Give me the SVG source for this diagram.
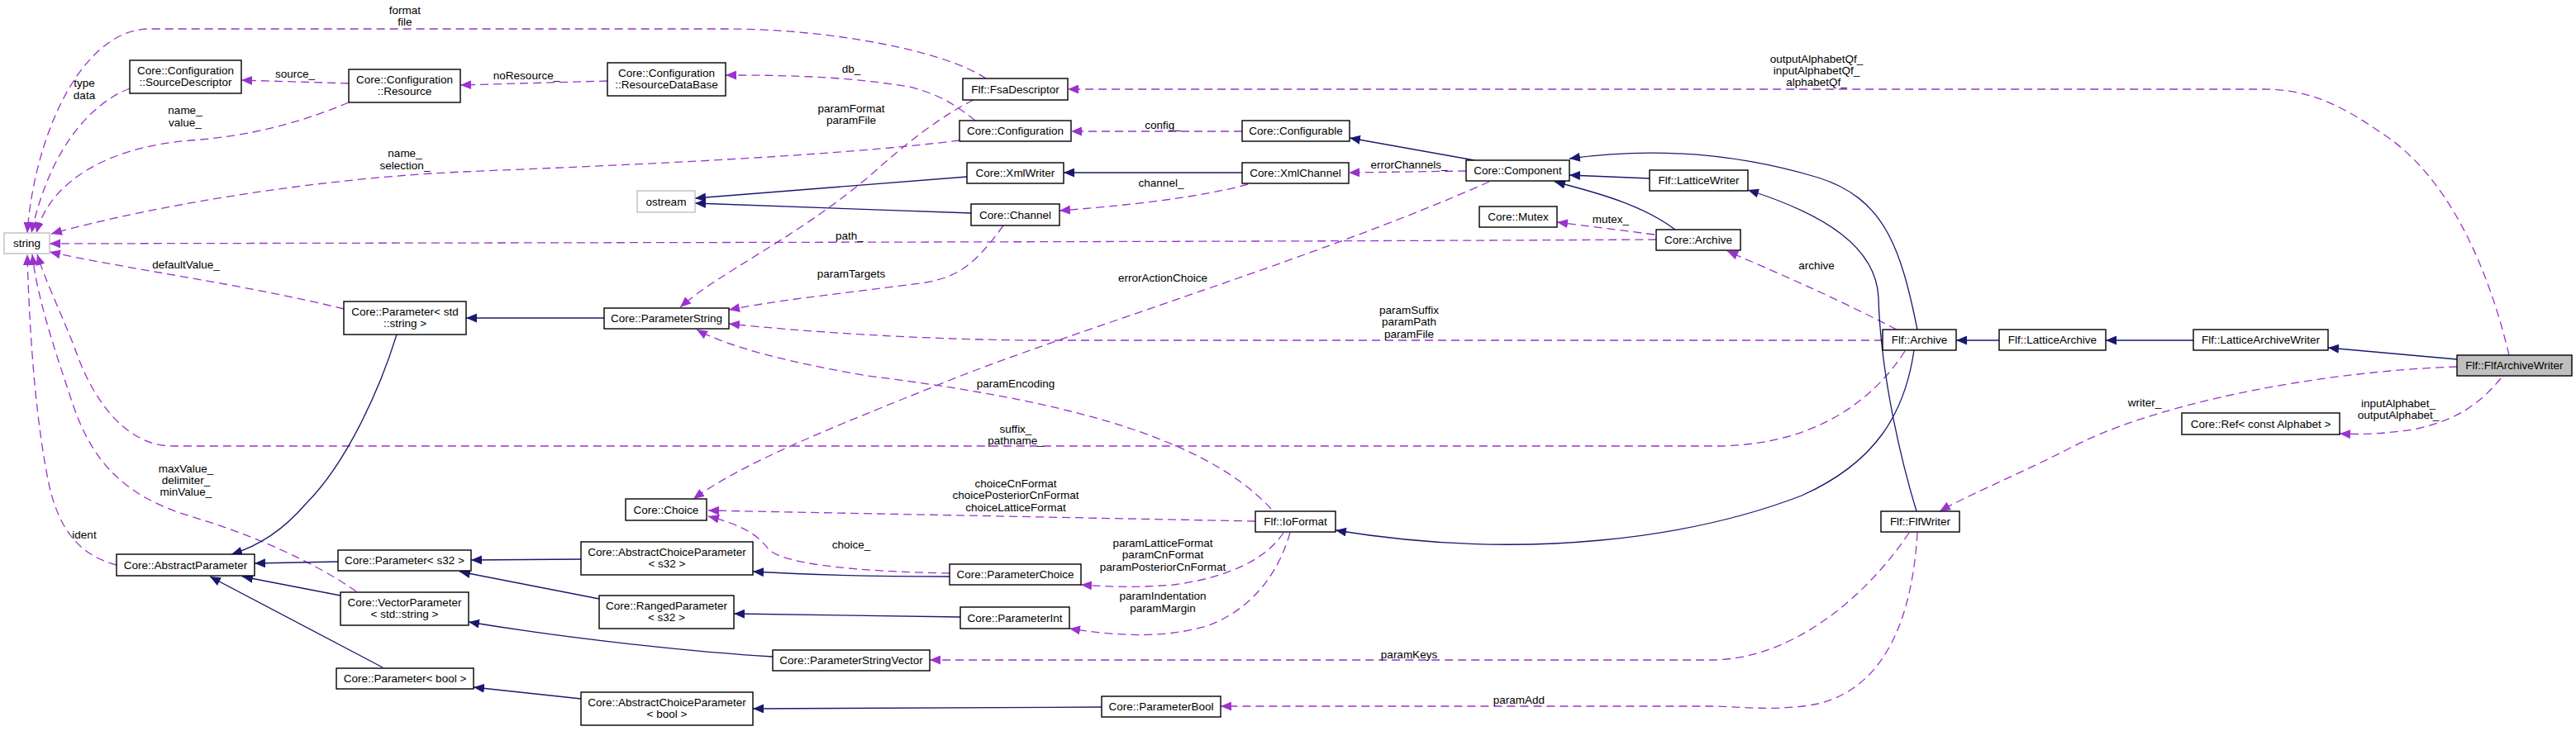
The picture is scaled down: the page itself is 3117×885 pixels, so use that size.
<svg xmlns="http://www.w3.org/2000/svg" width="3117" height="885" viewBox="0 0 3117 885">
<style>
.n rect{fill:#fff;stroke:#000;stroke-width:1.4}
.g rect{stroke:#bfbfbf}
.f rect{fill:#bfbfbf}
text{font-family:"Liberation Sans",Arial,sans-serif;font-size:13.5px;fill:#000;text-anchor:middle}
.s{fill:none;stroke:#191970;stroke-width:1.3;marker-end:url(#ab)}
.d{fill:none;stroke:#9a32cd;stroke-width:1.3;stroke-dasharray:10,6;marker-end:url(#ap)}
</style>
<defs>
<marker id="ab" markerUnits="userSpaceOnUse" markerWidth="14" markerHeight="11" refX="13" refY="5.5" orient="auto" viewBox="0 0 14 11"><path d="M0,0 L13,5.5 L0,11 z" fill="#191970"/></marker>
<marker id="ap" markerUnits="userSpaceOnUse" markerWidth="14" markerHeight="11" refX="13" refY="5.5" orient="auto" viewBox="0 0 14 11"><path d="M0,0 L13,5.5 L0,11 z" fill="#9a32cd"/></marker>
</defs>
<rect width="3117" height="885" fill="#fff"/>
<g id="edges">
<path class="d" d="M1193,95 C1140,60 1000,35 880,35 L178,35 C100,38 42,160 33,282"/>
<path class="d" d="M157,107 C110,125 60,180 38,282"/>
<path class="d" d="M422,124 C360,150 300,165 230,170 C130,178 60,220 44,282"/>
<path class="d" d="M1161,170 C1000,190 750,200 560,208 C400,215 200,245 62,283"/>
<path class="d" d="M2004,290 C1500,293 500,294 60,295"/>
<path class="d" d="M416,374 C300,345 150,325 60,305"/>
<path class="d" d="M141,684 C95,672 72,640 60,590 C45,520 36,420 33,308"/>
<path class="d" d="M431,716 C380,680 300,645 230,625 C150,600 110,560 85,480 C65,420 45,360 39,308"/>
<path class="d" d="M2305,425 C2270,480 2200,540 2075,540 L209,540 C150,540 110,480 90,420 C70,370 55,340 45,308"/>
<path class="d" d="M1214,273 C1180,320 1160,335 1120,342 C1000,358 950,362 882,375"/>
<path class="d" d="M1178,121 C1140,140 1100,170 1050,215 C960,290 870,330 823,372"/>
<path class="d" d="M2278,412 L1240,412 C1100,410 980,402 882,392"/>
<path class="d" d="M1538,616 C1450,520 1250,480 1050,455 C960,440 880,420 843,399"/>
<path class="d" d="M1802,220 C1600,310 1300,400 1150,460 C1000,520 900,560 839,604"/>
<path class="s" d="M731,385 L564,385"/>
<path class="s" d="M1170,214 L841,240"/>
<path class="s" d="M1175,258 L841,246"/>
<path class="s" d="M1503,209 L1287,209"/>
<path class="d" d="M1510,223 C1450,240 1350,250 1282,255"/>
<path class="d" d="M1503,159 L1296,159"/>
<path class="d" d="M1180,146 C1160,130 1140,115 1100,105 C1020,92 950,91 878,91"/>
<path class="s" d="M1784,194 L1633,167"/>
<path class="d" d="M1774,207 L1632,209"/>
<path class="d" d="M2002,284 L1884,269"/>
<path class="s" d="M2027,278 C1990,250 1940,235 1881,220"/>
<path class="s" d="M1996,216 L1899,212"/>
<path class="d" d="M2295,399 C2220,360 2150,330 2090,304"/>
<path class="s" d="M2320,399 C2300,300 2280,240 2200,215 C2100,185 2000,178 1899,192"/>
<path class="s" d="M2316,424 C2305,500 2270,560 2180,600 C2050,650 1850,680 1616,642"/>
<path class="s" d="M2319,619 C2295,540 2275,440 2273,360 C2270,300 2210,260 2115,230"/>
<path class="s" d="M2419,412 L2367,412"/>
<path class="s" d="M2654,412 L2548,412"/>
<path class="s" d="M2973,435 L2817,421"/>
<path class="d" d="M3036,430 C3010,320 2960,210 2880,160 C2830,125 2790,108 2740,108 L1292,108"/>
<path class="d" d="M2973,444 C2800,450 2600,490 2500,545 C2430,580 2380,600 2347,619"/>
<path class="d" d="M3026,458 C3000,490 2970,510 2920,520 C2880,526 2850,526 2831,525"/>
<path class="d" d="M2310,645 C2260,720 2170,799 2070,799 L1125,799"/>
<path class="d" d="M2320,645 C2315,730 2290,830 2200,852 C2150,862 2100,855 2070,855 L1477,855"/>
<path class="d" d="M1519,631 L857,618"/>
<path class="d" d="M1149,694 C1050,692 950,685 930,665 C915,645 895,635 857,625"/>
<path class="s" d="M1149,698 C1050,698 980,696 911,692"/>
<path class="d" d="M1553,645 C1530,680 1480,700 1420,708 C1370,712 1340,710 1308,708"/>
<path class="d" d="M1561,645 C1545,700 1510,740 1460,758 C1400,775 1340,768 1294,761"/>
<path class="s" d="M1162,747 L888,743"/>
<path class="s" d="M935,795 C850,790 700,775 567,753"/>
<path class="s" d="M1333,856 L911,858"/>
<path class="s" d="M703,846 L573,832"/>
<path class="s" d="M703,677 L570,678"/>
<path class="s" d="M725,725 L556,692"/>
<path class="s" d="M409,680 L308,682"/>
<path class="s" d="M412,721 L293,698"/>
<path class="s" d="M463,808 L254,698"/>
<path class="s" d="M480,405 C460,470 420,560 370,610 C340,645 310,662 280,671"/>
<path class="d" d="M735,98 L557,103"/>
<path class="d" d="M422,101 L292,97"/>
</g>
<g id="labels">
<text x="490" y="17">format</text><text x="490" y="31">file</text>
<text x="102" y="105">type</text><text x="102" y="120">data</text>
<text x="357" y="94">source_</text>
<text x="637" y="96">noResource_</text>
<text x="224" y="138">name_</text><text x="224" y="153">value_</text>
<text x="490" y="190">name_</text><text x="490" y="205">selection_</text>
<text x="225" y="325">defaultValue_</text>
<text x="102" y="652">ident</text>
<text x="225" y="572">maxValue_</text><text x="225" y="586">delimiter_</text><text x="225" y="600">minValue_</text>
<text x="1030" y="88">db_</text>
<text x="1030" y="136">paramFormat</text><text x="1030" y="150">paramFile</text>
<text x="1407" y="156">config_</text>
<text x="1405" y="226">channel_</text>
<text x="1028" y="290">path_</text>
<text x="1030" y="336">paramTargets</text>
<text x="1407" y="341">errorActionChoice</text>
<text x="1229" y="469">paramEncoding</text>
<text x="1229" y="524">suffix_</text><text x="1229" y="538">pathname_</text>
<text x="1229" y="590">choiceCnFormat</text><text x="1229" y="604">choicePosteriorCnFormat</text><text x="1229" y="619">choiceLatticeFormat</text>
<text x="1030" y="664">choice_</text>
<text x="1407" y="662">paramLatticeFormat</text><text x="1407" y="676">paramCnFormat</text><text x="1407" y="691">paramPosteriorCnFormat</text>
<text x="1407" y="726">paramIndentation</text><text x="1407" y="741">paramMargin</text>
<text x="2198" y="76">outputAlphabetQf_</text><text x="2198" y="90">inputAlphabetQf_</text><text x="2198" y="104">alphabetQf_</text>
<text x="1705" y="204">errorChannels_</text>
<text x="1949" y="270">mutex_</text>
<text x="2198" y="326">archive</text>
<text x="1705" y="380">paramSuffix</text><text x="1705" y="394">paramPath</text><text x="1705" y="409">paramFile</text>
<text x="1705" y="797">paramKeys</text>
<text x="1838" y="852">paramAdd</text>
<text x="2595" y="492">writer_</text>
<text x="2902" y="493">inputAlphabet_</text><text x="2902" y="507">outputAlphabet_</text>
</g>
<g id="string" class="n g"><rect x="5" y="282" width="55" height="25"/><text x="32.5" y="299">string</text></g>
<g id="sourceDescriptor" class="n"><rect x="157" y="73" width="135" height="40"/><text x="224.5" y="89.5">Core::Configuration</text><text x="224.5" y="104">::SourceDescriptor</text></g>
<g id="resource" class="n"><rect x="422" y="84" width="135" height="40"/><text x="489.5" y="100.5">Core::Configuration</text><text x="489.5" y="115">::Resource</text></g>
<g id="resourceDataBase" class="n"><rect x="735" y="76" width="143" height="40"/><text x="806.5" y="92.5">Core::Configuration</text><text x="806.5" y="107">::ResourceDataBase</text></g>
<g id="fsaDescriptor" class="n"><rect x="1165" y="95" width="127" height="26"/><text x="1228.5" y="112.5">Flf::FsaDescriptor</text></g>
<g id="configuration" class="n"><rect x="1161" y="146" width="135" height="25"/><text x="1228.5" y="163">Core::Configuration</text></g>
<g id="configurable" class="n"><rect x="1503" y="146" width="130" height="25"/><text x="1568" y="163">Core::Configurable</text></g>
<g id="xmlWriter" class="n"><rect x="1170" y="197" width="117" height="25"/><text x="1228.5" y="214">Core::XmlWriter</text></g>
<g id="xmlChannel" class="n"><rect x="1503" y="197" width="129" height="25"/><text x="1567.5" y="214">Core::XmlChannel</text></g>
<g id="component" class="n"><rect x="1774" y="194" width="125" height="25"/><text x="1836.5" y="211">Core::Component</text></g>
<g id="latticeWriter" class="n"><rect x="1996" y="206" width="119" height="25"/><text x="2055.5" y="223">Flf::LatticeWriter</text></g>
<g id="ostream" class="n g"><rect x="771" y="231" width="70" height="26"/><text x="806" y="248.5">ostream</text></g>
<g id="channel" class="n"><rect x="1175" y="247" width="107" height="26"/><text x="1228.5" y="264.5">Core::Channel</text></g>
<g id="mutex" class="n"><rect x="1790" y="250" width="94" height="25"/><text x="1837" y="267">Core::Mutex</text></g>
<g id="coreArchive" class="n"><rect x="2004" y="278" width="102" height="25"/><text x="2055" y="295">Core::Archive</text></g>
<g id="parameterString" class="n"><rect x="731" y="373" width="151" height="25"/><text x="806.5" y="390">Core::ParameterString</text></g>
<g id="parameterStdString" class="n"><rect x="416" y="365" width="148" height="40"/><text x="490" y="381.5">Core::Parameter&lt; std</text><text x="490" y="396">::string &gt;</text></g>
<g id="flfArchive" class="n"><rect x="2278" y="399" width="89" height="25"/><text x="2322.5" y="416">Flf::Archive</text></g>
<g id="latticeArchive" class="n"><rect x="2419" y="399" width="129" height="25"/><text x="2483.5" y="416">Flf::LatticeArchive</text></g>
<g id="latticeArchiveWriter" class="n"><rect x="2654" y="399" width="163" height="25"/><text x="2735.5" y="416">Flf::LatticeArchiveWriter</text></g>
<g id="flfArchiveWriter" class="n f"><rect x="2973" y="430" width="139" height="25"/><text x="3042.5" y="447">Flf::FlfArchiveWriter</text></g>
<g id="refAlphabet" class="n"><rect x="2640" y="500" width="191" height="26"/><text x="2735.5" y="517.5">Core::Ref&lt; const Alphabet &gt;</text></g>
<g id="choice" class="n"><rect x="757" y="604" width="98" height="26"/><text x="806" y="621.5">Core::Choice</text></g>
<g id="ioFormat" class="n"><rect x="1519" y="619" width="97" height="25"/><text x="1567.5" y="636">Flf::IoFormat</text></g>
<g id="flfWriter" class="n"><rect x="2276" y="619" width="95" height="25"/><text x="2323.5" y="636">Flf::FlfWriter</text></g>
<g id="abstractParameter" class="n"><rect x="141" y="671" width="167" height="26"/><text x="224.5" y="688.5">Core::AbstractParameter</text></g>
<g id="parameterS32" class="n"><rect x="409" y="666" width="161" height="25"/><text x="489.5" y="683">Core::Parameter&lt; s32 &gt;</text></g>
<g id="abstractChoiceS32" class="n"><rect x="703" y="656" width="208" height="40"/><text x="807" y="672.5">Core::AbstractChoiceParameter</text><text x="807" y="687">&lt; s32 &gt;</text></g>
<g id="parameterChoice" class="n"><rect x="1149" y="683" width="159" height="25"/><text x="1228.5" y="700">Core::ParameterChoice</text></g>
<g id="vectorParameter" class="n"><rect x="412" y="717" width="155" height="40"/><text x="489.5" y="733.5">Core::VectorParameter</text><text x="489.5" y="748">&lt; std::string &gt;</text></g>
<g id="rangedParameter" class="n"><rect x="725" y="721" width="163" height="40"/><text x="806.5" y="737.5">Core::RangedParameter</text><text x="806.5" y="752">&lt; s32 &gt;</text></g>
<g id="parameterInt" class="n"><rect x="1162" y="735" width="132" height="26"/><text x="1228" y="752.5">Core::ParameterInt</text></g>
<g id="parameterStringVector" class="n"><rect x="935" y="787" width="190" height="25"/><text x="1030" y="804">Core::ParameterStringVector</text></g>
<g id="parameterBoolT" class="n"><rect x="407" y="809" width="166" height="25"/><text x="490" y="826">Core::Parameter&lt; bool &gt;</text></g>
<g id="abstractChoiceBool" class="n"><rect x="703" y="838" width="208" height="40"/><text x="807" y="854.5">Core::AbstractChoiceParameter</text><text x="807" y="869">&lt; bool &gt;</text></g>
<g id="parameterBool" class="n"><rect x="1333" y="843" width="144" height="25"/><text x="1405" y="860">Core::ParameterBool</text></g>
</svg>
